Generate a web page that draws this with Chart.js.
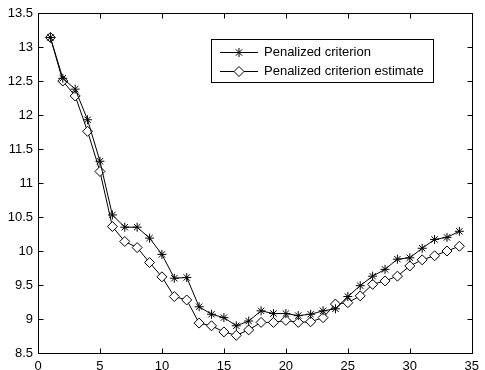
<!DOCTYPE html>
<html>
<head>
<meta charset="utf-8">
<script src="https://cdn.jsdelivr.net/npm/chart.js@4/dist/chart.umd.min.js"></script>
<style>
  html, body { margin: 0; padding: 0; background: #fff; }
  #chart { display: block; }
</style>
</head>
<body>
<canvas id="chart" width="485" height="370"></canvas>
<script>
// iteration index (x values)
const iterations = [1, 2, 3, 4, 5, 6, 7, 8, 9, 10, 11, 12, 13, 14, 15, 16, 17,
    18, 19, 20, 21, 22, 23, 24, 25, 26, 27, 28, 29, 30, 31, 32, 33, 34];

// Penalized criterion (stars)
const criterion = [13.14, 12.54, 12.38, 11.93, 11.32, 10.53, 10.35, 10.35, 10.19, 9.95,
    9.60, 9.61, 9.18, 9.07, 9.02, 8.90, 8.97, 9.12, 9.08, 9.08,
    9.05, 9.07, 9.12, 9.15, 9.33, 9.49, 9.63, 9.73, 9.88, 9.90,
    10.04, 10.17, 10.20, 10.29];

// Penalized criterion estimate (diamonds)
const estimate = [13.14, 12.50, 12.28, 11.76, 11.17, 10.36, 10.14, 10.05, 9.83, 9.62,
    9.33, 9.28, 8.94, 8.90, 8.81, 8.76, 8.84, 8.95, 8.95, 8.98,
    8.95, 8.96, 9.02, 9.22, 9.24, 9.34, 9.51, 9.56, 9.63, 9.78,
    9.87, 9.93, 10.00, 10.07];

const seriesNames = ['Penalized criterion', 'Penalized criterion estimate'];
const xTicks = [0, 5, 10, 15, 20, 25, 30, 35];
const yTicks = [8.5, 9, 9.5, 10, 10.5, 11, 11.5, 12, 12.5, 13, 13.5];

const FONT = '13px "Liberation Sans", Arial, sans-serif';

const toPoints = (vals) => vals.map((v, i) => ({ x: iterations[i], y: v }));

// MATLAB-style box with inward ticks on all four sides plus an inset legend
const boxPlugin = {
    id: 'matlabBox',
    afterDraw(chart) {
        const { ctx, chartArea: a, scales } = chart;
        const L = Math.round(a.left) + 0.5, R = Math.round(a.right) + 0.5;
        const T = Math.round(a.top) + 0.5, B = Math.round(a.bottom) + 0.5;
        const tl = 5;
        ctx.save();
        ctx.strokeStyle = '#000';
        ctx.lineWidth = 1;
        ctx.strokeRect(L, T, R - L, B - T);
        ctx.beginPath();
        xTicks.forEach(t => {
            const px = Math.round(scales.x.getPixelForValue(t)) + 0.5;
            ctx.moveTo(px, B); ctx.lineTo(px, B - tl);
            ctx.moveTo(px, T); ctx.lineTo(px, T + tl);
        });
        yTicks.forEach(t => {
            const py = Math.round(scales.y.getPixelForValue(t)) + 0.5;
            ctx.moveTo(L, py); ctx.lineTo(L + tl, py);
            ctx.moveTo(R, py); ctx.lineTo(R - tl, py);
        });
        ctx.stroke();

        // legend
        const lx = 211.5, ly = 39.5, lw = 222, lh = 43;
        ctx.fillStyle = '#fff';
        ctx.fillRect(lx, ly, lw, lh);
        ctx.strokeRect(lx, ly, lw, lh);
        const rows = [52, 71];
        chart.data.datasets.forEach((ds, i) => {
            const y = rows[i] + 0.5;
            ctx.beginPath();
            ctx.strokeStyle = '#000';
            ctx.lineWidth = 1;
            ctx.moveTo(220, y); ctx.lineTo(258, y);
            ctx.stroke();
            ctx.fillStyle = ds.pointBackgroundColor;
            ctx.strokeStyle = ds.pointBorderColor;
            Chart.helpers.drawPoint(ctx, {
                pointStyle: ds.pointStyle, radius: ds.pointRadius,
                borderWidth: 1, rotation: 0
            }, 239, y);
            ctx.fillStyle = '#000';
            ctx.font = FONT;
            ctx.textBaseline = 'middle';
            ctx.textAlign = 'left';
            ctx.fillText(ds.label, 264, y);
        });
        ctx.restore();
    }
};

new Chart(document.getElementById('chart'), {
    type: 'line',
    data: {
        datasets: [{
            label: seriesNames[0],
            data: toPoints(criterion),
            borderColor: '#000',
            borderWidth: 1,
            pointStyle: 'star',
            pointRadius: 4.5,
            pointBorderColor: '#000',
            pointBackgroundColor: '#000',
            pointBorderWidth: 1,
            tension: 0
        }, {
            label: seriesNames[1],
            data: toPoints(estimate),
            borderColor: '#000',
            borderWidth: 1,
            pointStyle: 'rectRot',
            pointRadius: 5,
            pointBorderColor: '#000',
            pointBackgroundColor: '#fff',
            pointBorderWidth: 1,
            tension: 0
        }]
    },
    options: {
        responsive: false,
        animation: false,
        events: [],
        layout: { padding: { top: 13, right: 9, left: 0, bottom: 0 } },
        plugins: { legend: { display: false }, tooltip: { enabled: false } },
        scales: {
            x: {
                type: 'linear',
                min: 0, max: 35,
                afterBuildTicks: (s) => { s.ticks = xTicks.map(v => ({ value: v })); },
                afterFit: (s) => { s.height = 17; },
                grid: { display: false, drawTicks: false },
                border: { display: false },
                ticks: { color: '#000', font: { family: '"Liberation Sans", Arial', size: 13 }, padding: 6, maxRotation: 0,
                    callback: (v) => String(v) }
            },
            y: {
                min: 8.5, max: 13.5,
                afterBuildTicks: (s) => { s.ticks = yTicks.map(v => ({ value: v })); },
                afterFit: (s) => { s.width = 38; },
                grid: { display: false, drawTicks: false },
                border: { display: false },
                ticks: { color: '#000', font: { family: '"Liberation Sans", Arial', size: 13 }, padding: 5,
                    callback: (v) => String(v) }
            }
        }
    },
    plugins: [boxPlugin]
});
</script>
</body>
</html>
